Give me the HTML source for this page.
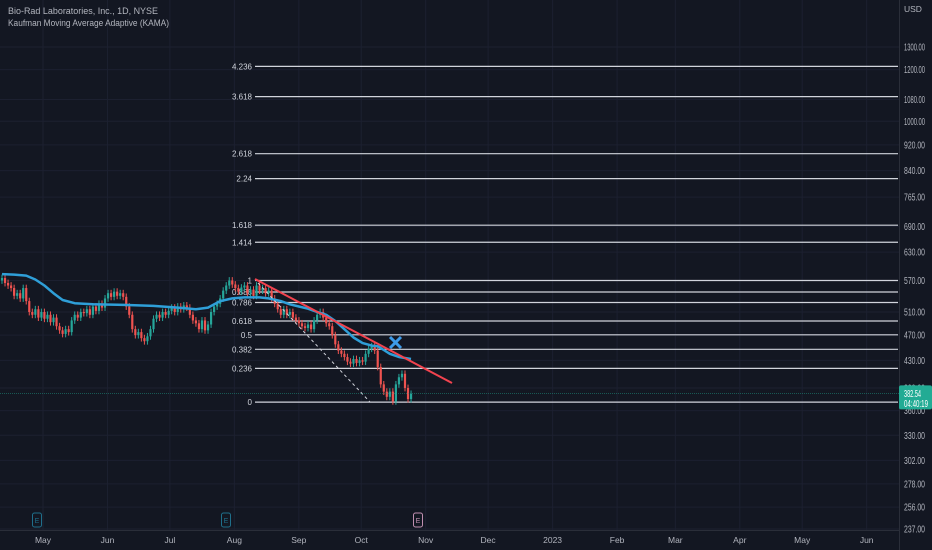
<!DOCTYPE html>
<html><head><meta charset="utf-8"><style>
html,body{margin:0;padding:0;background:#131722;}
svg{display:block;font-family:"Liberation Sans",sans-serif;}
</style></head><body>
<svg id="chart" width="932" height="550" viewBox="0 0 932 550" xmlns="http://www.w3.org/2000/svg">
<rect x="0" y="0" width="932" height="550" fill="#131722"/>
<g id="grid"></g>
<g id="fib"></g>
<g id="candles"></g>
<g id="kama"></g>
<g id="draw"></g>
<g id="axes"></g>
<text x="8" y="14" font-size="9" fill="#b2b5be" textLength="150" lengthAdjust="spacingAndGlyphs">Bio-Rad Laboratories, Inc., 1D, NYSE</text>
<text x="8" y="26" font-size="9" fill="#b2b5be" textLength="161" lengthAdjust="spacingAndGlyphs">Kaufman Moving Average Adaptive (KAMA)</text>
</svg>
<script>
const priceTicks=[1300,1200,1080,1000,920,840,765,690,630,570,510,470,430,390,360,330,302,278,256,237];
const priceTickLabels=["1300.00","1200.00","1080.00","1000.00","920.00","840.00","765.00","690.00","630.00","570.00","510.00","470.00","430.00","390.00","360.00","330.00","302.00","278.00","256.00","237.00"];
const monthLabels=["May","Jun","Jul","Aug","Sep","Oct","Nov","Dec","2023","Feb","Mar","Apr","May","Jun"];
const monthDays=[0,31,61,92,123,153,184,214,245,276,304,335,365,396];
const fibLevels=[4.236,3.618,2.618,2.24,1.618,1.414,1,0.886,0.786,0.618,0.5,0.382,0.236,0];
const fibLevelLabels=["4.236","3.618","2.618","2.24","1.618","1.414","1","0.886","0.786","0.618","0.5","0.382","0.236","0"];
const fibLow=371, fibHigh=570;
const lastPrice=382.54;
const opens=[570,575,565,560,555,540,545,535,555,530,510,505,515,500,510,498,505,492,500,485,478,472,480,475,495,505,500,510,508,515,505,520,512,525,518,535,545,538,548,540,545,538,520,505,480,470,475,465,460,468,480,498,505,500,510,505,512,518,510,520,515,522,518,505,495,490,480,495,478,488,510,520,525,535,550,560,570,562,555,548,556,560,545,552,540,560,550,555,545,550,535,525,515,505,515,505,510,500,495,490,485,482,488,480,495,505,510,500,490,485,470,455,445,440,435,428,425,432,426,430,428,440,448,452,445,420,395,385,378,385,372,395,405,410,390,375];
const closes=[575,565,560,555,540,545,535,555,530,510,505,515,500,510,498,505,492,500,485,478,472,480,475,495,505,500,510,508,515,505,520,512,525,518,535,545,538,548,540,545,538,520,505,480,470,475,465,460,468,480,498,505,500,510,505,512,518,510,520,515,522,518,505,495,490,480,495,478,488,510,520,525,535,550,560,570,562,555,548,556,560,545,552,540,560,550,555,545,550,535,525,515,505,515,505,510,500,495,490,485,482,488,480,495,505,510,500,490,485,470,455,445,440,435,428,425,432,426,430,428,440,448,452,445,420,395,385,378,385,372,395,405,410,390,375,382];
const kamaIdx=[0,4,8,11,14,17,20,24,30,40,50,58,64,68,72,76,80,85,88,92,95,98,101,104,107,110,113,116,119,122,124,126,128,131,135];
const kamaVal=[583,582,580,572,560,545,532,526,524,523,521,518,515,518,530,535,537,537,535,530,524,520,516,510,505,494,480,466,457,453,452,446,440,435,432];

const NS="http://www.w3.org/2000/svg";
function el(tag,attrs,parent){const e=document.createElementNS(NS,tag);for(const k in attrs)e.setAttribute(k,attrs[k]);parent.appendChild(e);return e;}
const Y_TOP=47,P_TOP=1300,SCALE=283.2;
function yScale(p){return Y_TOP+(Math.log(P_TOP)-Math.log(p))*SCALE;}
function xBar(i){return 2+i*3.03;}
function xDay(d){return 43+d*2.08;}
const grid=document.getElementById('grid'),axes=document.getElementById('axes'),fib=document.getElementById('fib'),cg=document.getElementById('candles'),kg=document.getElementById('kama'),dg=document.getElementById('draw');
monthDays.forEach((d,i)=>{const l=el('line',{x1:xDay(d),x2:xDay(d),y1:0,y2:530,stroke:'#1c2030','stroke-width':1},grid);
});
priceTicks.forEach((p,i)=>{const l=el('line',{x1:0,x2:899,y1:yScale(p),y2:yScale(p),stroke:'#1c2030','stroke-width':1},grid);
});
fibLevels.forEach((lv,i)=>{const p=fibLow+lv*(fibHigh-fibLow);const y=yScale(p);
const l=el('line',{x1:255,x2:898,y1:y,y2:y,stroke:'#d1d4dc','stroke-width':1.2},fib);

const t=el('text',{x:252,y:y+3,'font-size':8,fill:'#d1d4dc','text-anchor':'end'},fib);t.textContent=fibLevelLabels[i];
});
const lp=el('line',{x1:0,x2:899,y1:yScale(lastPrice),y2:yScale(lastPrice),stroke:'#22ab94','stroke-width':0.8,'stroke-opacity':0.5,'stroke-dasharray':'1,1'},axes);

closes.forEach((c,i)=>{const o=opens[i];const up=c>=o;const col=up?'#26a69a':'#ef5350';const x=xBar(i);
const hi=Math.max(o,c)*1.012,lo=Math.min(o,c)*0.988;
const w=el('line',{x1:x,x2:x,y1:yScale(hi),y2:yScale(lo),stroke:col,'stroke-width':1},cg);

const yt=yScale(Math.max(o,c)),yb=yScale(Math.min(o,c));
const b=el('rect',{x:x-1.1,y:yt,width:2.2,height:Math.max(1,yb-yt),fill:col},cg);
});
const kp=kamaIdx.map((idx,i)=>xBar(idx).toFixed(1)+','+yScale(kamaVal[i]).toFixed(1)).join(' ');
const kl=el('polyline',{points:kp,fill:'none',stroke:'#2f9fd8','stroke-width':2.5,'stroke-linejoin':'round'},kg);

const tl=el('line',{x1:255,y1:279,x2:452,y2:383,stroke:'#f2434f','stroke-width':2},dg);

const dl=el('line',{x1:258,y1:283,x2:370,y2:402,stroke:'#d1d4dc','stroke-width':1,'stroke-dasharray':'3,3'},dg);

const xm=el('path',{d:'M390 337 L401 348 M401 337 L390 348',stroke:'#3d9be9','stroke-width':3,fill:'none'},dg);

const sv=el('line',{x1:899.5,x2:899.5,y1:0,y2:550,stroke:'#2a2e39'},axes);
const sh=el('line',{x1:0,x2:899,y1:530.5,y2:530.5,stroke:'#2a2e39'},axes);
const usd=el('text',{x:904,y:12,'font-size':8.5,fill:'#b2b5be'},axes);usd.textContent='USD';
priceTicks.forEach((p,i)=>{const t=el('text',{x:904,y:yScale(p)+3.5,'font-size':10,fill:'#b2b5be',textLength:21,lengthAdjust:'spacingAndGlyphs'},axes);t.textContent=priceTickLabels[i];
});
monthLabels.forEach((m,i)=>{const t=el('text',{x:xDay(monthDays[i]),y:543,'font-size':8.5,fill:'#b2b5be','text-anchor':'middle'},axes);t.textContent=m;
});
const py=yScale(lastPrice);
const pb=el('rect',{x:899,y:py-8,width:33,height:24,rx:2,fill:'#22ab94'},axes);
const pt=el('text',{x:904,y:py+3.5,'font-size':10,fill:'#ffffff',textLength:17,lengthAdjust:'spacingAndGlyphs'},axes);pt.textContent=lastPrice.toFixed(2);
const ct=el('text',{x:904,y:py+13.5,'font-size':10,fill:'#ffffff',textLength:24,lengthAdjust:'spacingAndGlyphs'},axes);ct.textContent='04:40:19';
[[37,'#1f6f8b'],[226,'#1f6f8b'],[418,'#c08fb0']].forEach((e,i)=>{const r=el('rect',{x:e[0]-4.5,y:513,width:9,height:14,rx:2,fill:'#131722',stroke:e[1],'stroke-width':1},axes);

const t=el('text',{x:e[0],y:523,'font-size':7,fill:e[1],'text-anchor':'middle'},axes);t.textContent='E';
});
</script>
</body></html>
